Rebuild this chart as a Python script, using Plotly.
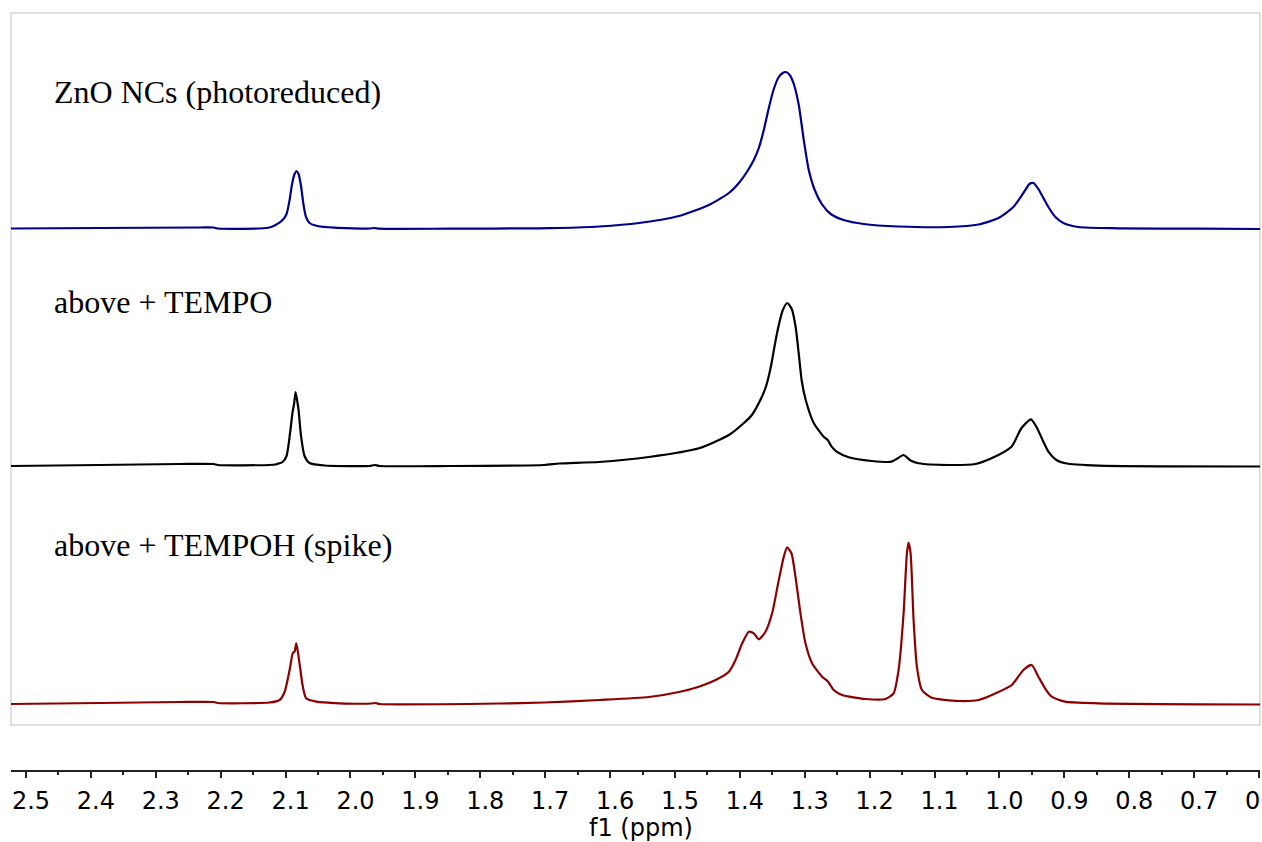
import plotly.graph_objects as go

# 1H NMR spectra, chemical shift (ppm) and intensity (arb. units) per sample
zno_ppm = [2.5231, 2.3862, 2.2323, 2.2108, 2.2046, 2.1400, 2.1246, 2.1154, 2.1046, 2.0985,
           2.0938, 2.0900, 2.0862, 2.0831, 2.0800, 2.0762, 2.0723, 2.0685, 2.0631, 2.0508,
           2.0246, 1.9708, 1.9631, 1.9554, 1.8477, 1.7092, 1.6785, 1.6169, 1.5554, 1.4938,
           1.4477, 1.4169, 1.4015, 1.3892, 1.3785, 1.3708, 1.3631, 1.3554, 1.3477, 1.3400,
           1.3338, 1.3292, 1.3231, 1.3169, 1.3092, 1.3015, 1.2938, 1.2846, 1.2738, 1.2600,
           1.2400, 1.2092, 1.1554, 1.0785, 1.0323, 1.0015, 0.9785, 0.9631, 0.9538, 0.9477,
           0.9400, 0.9323, 0.9246, 0.9138, 0.9015, 0.8785, 0.8169, 0.6938, 0.5985]
zno_int = [0.5, 1.0, 1.5, 1.5, 0.5, 0.5, 1.5, 4.0, 9.0, 15.0,
           29.0, 45.0, 55.0, 58.0, 55.0, 43.0, 24.0, 12.0, 6.0, 3.0,
           1.3, 0.5, 1.0, 0.3, 0.3, 0.7, 1.0, 2.5, 6.0, 13.0,
           24.0, 36.0, 46.0, 57.0, 69.0, 81.0, 99.0, 121.0, 140.0, 152.0,
           156.0, 157.0, 154.0, 145.0, 124.0, 89.0, 59.0, 39.0, 25.0, 15.0,
           9.0, 5.0, 2.5, 2.0, 4.5, 11.0, 22.0, 36.0, 45.0, 46.0,
           40.0, 31.0, 22.0, 12.0, 6.0, 2.0, 0.7, 0.3, 0.0]

tempo_ppm = [2.5231, 2.3862, 2.2631, 2.2108, 2.2046, 2.1246, 2.1154, 2.1108, 2.1046, 2.0985,
             2.0931, 2.0892, 2.0869, 2.0846, 2.0823, 2.0800, 2.0762, 2.0708, 2.0631, 2.0400,
             1.9708, 1.9631, 1.9554, 1.8477, 1.7015, 1.6785, 1.6169, 1.5400, 1.4631, 1.4169,
             1.3938, 1.3815, 1.3662, 1.3600, 1.3554, 1.3508, 1.3462, 1.3400, 1.3338, 1.3269,
             1.3200, 1.3138, 1.3092, 1.3046, 1.2985, 1.2862, 1.2708, 1.2646, 1.2585, 1.2508,
             1.2323, 1.1969, 1.1662, 1.1585, 1.1477, 1.1369, 1.1246, 1.0785, 1.0369, 1.0123,
             0.9815, 0.9662, 0.9515, 0.9431, 0.9323, 0.9246, 0.9123, 0.8985, 0.8477, 0.5985]
tempo_int = [0.0, 1.0, 2.0, 2.0, 1.0, 1.0, 1.5, 2.5, 4.0, 10.0,
             33.0, 54.0, 62.0, 74.0, 66.0, 56.0, 30.0, 10.0, 3.0, 0.5,
             0.0, 1.0, 0.0, 0.0, 1.0, 2.5, 4.0, 9.0, 17.7, 31.0,
             43.0, 51.0, 69.0, 79.0, 90.0, 104.0, 121.0, 141.0, 156.0, 163.0,
             157.0, 138.0, 112.0, 85.0, 66.0, 43.0, 29.3, 26.0, 19.3, 14.3,
             8.7, 5.0, 4.3, 7.0, 11.0, 5.5, 2.7, 1.0, 2.0, 7.7,
             19.3, 37.7, 46.7, 39.3, 24.3, 14.3, 6.0, 2.7, 0.3, -0.5]

tempoh_ppm = [2.5231, 2.3862, 2.2631, 2.2108, 2.2046, 2.1246, 2.1092, 2.1015, 2.0938, 2.0888,
              2.0862, 2.0835, 2.0811, 2.0785, 2.0734, 2.0682, 2.0528, 2.0169, 1.9677, 1.9615,
              1.9554, 1.7708, 1.7015, 1.6169, 1.5400, 1.4938, 1.4631, 1.4374, 1.4169, 1.4066,
              1.3964, 1.3862, 1.3785, 1.3708, 1.3605, 1.3503, 1.3400, 1.3323, 1.3272, 1.3205,
              1.3143, 1.3066, 1.2989, 1.2887, 1.2733, 1.2641, 1.2554, 1.2426, 1.2066, 1.1758,
              1.1631, 1.1554, 1.1477, 1.1426, 1.1400, 1.1369, 1.1323, 1.1272, 1.1195, 1.1041,
              1.0631, 1.0323, 1.0118, 0.9810, 0.9631, 0.9503, 0.9400, 0.9297, 0.9195, 0.8990,
              0.8477, 0.5985]
tempoh_int = [0.0, 1.0, 2.0, 2.0, 1.0, 1.5, 4.0, 12.0, 34.0, 51.0,
              52.3, 60.7, 52.3, 40.7, 17.3, 5.7, 2.3, 0.7, 0.5, 1.0,
              0.0, 0.5, 1.5, 4.0, 7.0, 12.0, 17.3, 24.0, 32.3, 44.0,
              60.7, 72.3, 70.7, 64.7, 72.3, 90.7, 124.0, 147.3, 156.7, 150.7,
              127.3, 90.7, 60.7, 40.7, 27.3, 22.3, 14.0, 9.0, 5.0, 5.0,
              10.7, 34.0, 90.7, 150.7, 161.3, 150.7, 84.0, 37.3, 14.0, 6.3,
              3.0, 4.0, 9.0, 19.0, 34.0, 39.0, 27.3, 15.7, 7.3, 2.3,
              0.7, -0.5]

labels = ["ZnO NCs (photoreduced)", "above + TEMPO", "above + TEMPOH (spike)"]

# stacking offsets and label heights in y-axis units
offsets = [496, 259, 21]
label_y = [633, 423, 180]
colors = ["#00008B", "#000000", "#8B0000"]

spectra = [(zno_ppm, zno_int), (tempo_ppm, tempo_int), (tempoh_ppm, tempoh_int)]

fig = go.Figure()
for (ppm, inten), off, col, name in zip(spectra, offsets, colors, labels):
    fig.add_trace(go.Scatter(
        x=ppm, y=[v + off for v in inten], mode="lines", name=name,
        line=dict(color=col, width=2.2, shape="spline", smoothing=0.6),
        showlegend=False, hoverinfo="skip"))

for text, y in zip(labels, label_y):
    fig.add_annotation(x=2.4600, y=y, xref="x", yref="y", text=text, showarrow=False,
                       xanchor="left", yanchor="middle",
                       font=dict(family="Liberation Serif", size=32, color="#000"))

tick_font = dict(family="DejaVu Sans", size=24, color="#000")

# axis title, placed as free text below the tick labels
fig.add_annotation(x=0.5048, y=-0.0752, xref="paper", yref="paper", text="f1 (ppm)",
                   showarrow=False, xanchor="center", yanchor="middle", font=tick_font)

# light frame around the spectra panel
fig.add_shape(type="rect", xref="x domain", yref="y domain", x0=0, x1=1, y0=0, y1=1,
              line=dict(color="#d6d6d6", width=1.5), layer="below")

fig.update_layout(
    width=1262, height=842,
    margin=dict(l=11, r=2, t=13, b=71, autoexpand=False),
    paper_bgcolor="white", plot_bgcolor="white",
    xaxis=dict(
        range=[2.5231, 0.5985], anchor="free", position=0, automargin=False,
        showline=True, linecolor="#222", linewidth=2,
        ticks="outside", ticklen=6, tickwidth=1.5, tickcolor="#222",
        tick0=0, dtick=0.1, tickformat=".1f",
        minor=dict(ticks="outside", ticklen=3, tickwidth=1.5, tickcolor="#222", dtick=0.05,
                   showgrid=False),
        showgrid=False, zeroline=False, ticklabeloverflow="allow",
        ticklabelshift=-5, ticklabelstandoff=2,
        tickfont=tick_font,
    ),
    yaxis=dict(range=[0, 712], domain=[0.0607, 1], visible=False, showgrid=False,
               zeroline=False),
)

fig.write_html("out.html")
